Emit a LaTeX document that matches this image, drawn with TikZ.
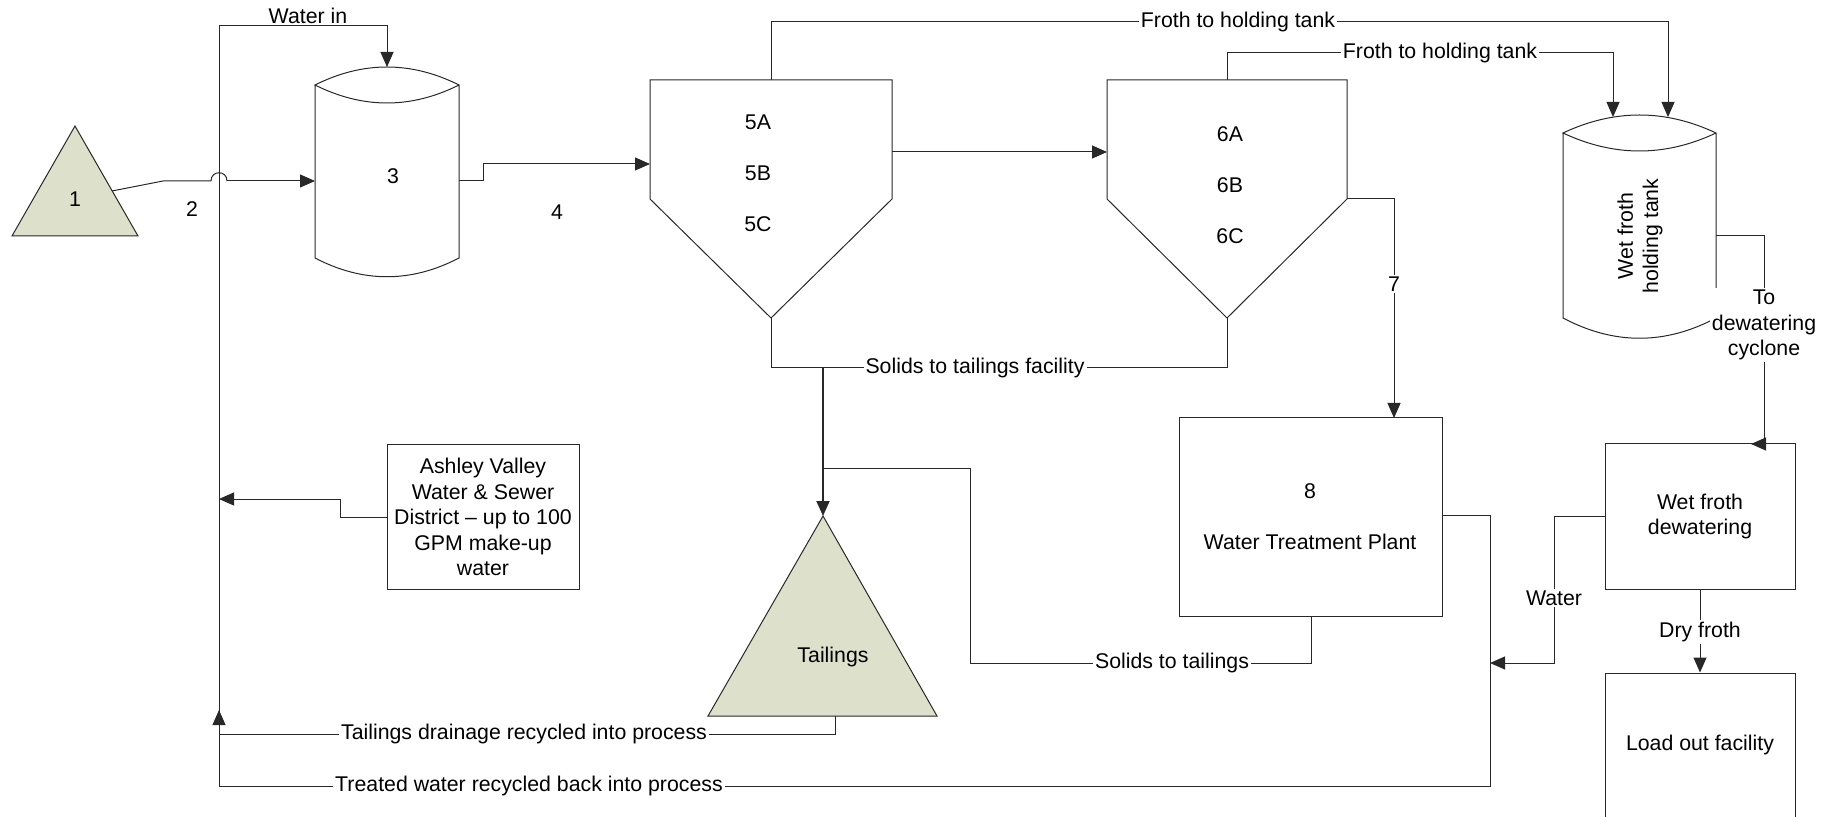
\documentclass[tikz,border=0pt]{standalone}
\usepackage{fontspec}
\setmainfont{Liberation Sans}
\usetikzlibrary{arrows.meta}
\definecolor{tailfill}{RGB}{221,224,203}
\definecolor{ink}{RGB}{40,40,40}
\begin{document}
\begin{tikzpicture}[x=0.5pt,y=-0.5pt,
  font=\fontsize{10.65}{12.7}\selectfont,
  line/.style={draw=ink, line width=0.5pt},
  arr/.style={line, -{Triangle[length=7.5pt,width=6.5pt]}},
  lbl/.style={fill=white, inner sep=1pt, align=center},
  txt/.style={inner sep=0pt, align=center},
  box/.style={draw=ink, line width=0.5pt, align=center, inner sep=0pt},
  tri/.style={fill=tailfill, draw=ink, line width=0.5pt},
  vessel/.style={draw=ink, line width=0.5pt}]
\useasboundingbox (0,0) rectangle (1834,817);

% ---------- Triangle 1 ----------
\coordinate (t1a) at (75,126);
\coordinate (t1l) at (12,236);
\coordinate (t1r) at (138,236);
\filldraw[tri] (t1a) -- (t1r) -- (t1l) -- cycle;
\node[txt] (n1) at (75,199) {1};
\coordinate (t1out) at (112,191);

% ---------- Cylinder 3 ----------
\draw[vessel] (315,85) -- (315,258) .. controls (363,283) and (411,283) .. (459,258)
  -- (459,85) .. controls (411,61) and (363,61) .. (315,85)
  .. controls (363,109) and (411,109) .. (459,85);
\node[txt] (n3) at (393,176) {3};
\coordinate (c3in) at (315,181);
\coordinate (c3top) at (387,67);
\coordinate (c3out) at (459,181);

% ---------- Hopper 5 ----------
\draw[vessel] (650,80) -- (892,80) -- (892,199) -- (771,318) -- (650,199) -- cycle;
\node[txt] (n5a) at (758,122) {5A};
\node[txt] (n5b) at (758,173) {5B};
\node[txt] (n5c) at (758,224) {5C};
\coordinate (h5in) at (650,164);
\coordinate (h5top) at (771,80);
\coordinate (h5out) at (892,152);
\coordinate (h5bot) at (771,318);

% ---------- Hopper 6 ----------
\draw[vessel] (1107,80) -- (1347,80) -- (1347,199) -- (1227,318) -- (1107,199) -- cycle;
\node[txt] (n6a) at (1230,134) {6A};
\node[txt] (n6b) at (1230,185) {6B};
\node[txt] (n6c) at (1230,236) {6C};
\coordinate (h6in) at (1107,152);
\coordinate (h6top) at (1227,80);
\coordinate (h6out) at (1347,199);
\coordinate (h6bot) at (1227,318);

% ---------- Wet froth holding tank ----------
\draw[vessel] (1563,133) -- (1563,318) .. controls (1614,345) and (1665,345) .. (1716,318)
  -- (1716,133) .. controls (1665,109) and (1614,109) .. (1563,133)
  .. controls (1614,157) and (1665,157) .. (1716,133);
\node[txt, rotate=90] (ntank) at (1640,236) {Wet froth\\holding tank};
\coordinate (tk1) at (1613,117);
\coordinate (tk2) at (1668,117);
\coordinate (tkout) at (1716,236);

% ---------- Tailings ----------
\coordinate (ta) at (823,516);
\filldraw[tri] (ta) -- (937,716) -- (708,716) -- cycle;
\node[txt] (ntail) at (833,657) {Tailings};
\coordinate (tdrain) at (835,716);

% ---------- Boxes ----------
\node[box, minimum width=96pt, minimum height=72.5pt] (ash) at (483,517)
  {Ashley Valley\\Water \& Sewer\\District -- up to 100\\GPM make-up\\water};
\node[box, minimum width=131.5pt, minimum height=99pt] (wtp) at (1310.5,517) {};
\node[txt] (n8) at (1310,491) {8};
\node[txt] (nwtp) at (1310,542) {Water Treatment Plant};
\node[box, minimum width=95pt, minimum height=72.5pt] (wfd) at (1700,516.5) {Wet froth\\dewatering};
\node[box, minimum width=95pt, minimum height=72pt] (lo) at (1700,745) {Load out facility};

% ---------- Connectors ----------
% 1 -> 3 (stream 2) with a jump over the water line
\coordinate (p2a) at (163,181);
\coordinate (j1) at (211,181);
\coordinate (j2) at (227,181);
\draw[line] (t1out) -- (p2a) -- (j1) .. controls (211,170) and (227,170) .. (j2);
\draw[arr] (j2) -- (c3in);
\node[txt] (n2) at (192,209) {2};

% Water in (main recycle riser)
\coordinate (wb) at (219,734);
\coordinate (wt) at (219,26);
\draw[arr] (wb) -- (wt) -| (c3top);
\node[txt] (lwin) at (308,16) {Water in};

% 3 -> 5 (stream 4)
\coordinate (p4) at (483,181);
\draw[arr] (c3out) -- (p4) |- (h5in);
\node[txt] (n4) at (557,212) {4};

% 5 -> 6
\draw[arr] (h5out) -- (h6in);

% Froth from 5
\coordinate (f1) at (771,22);
\draw[arr] (h5top) -- (f1) -| (tk2);
\node[lbl] (lf1) at (1238,22) {Froth to holding tank};

% Froth from 6
\coordinate (f2) at (1227,53);
\draw[arr] (h6top) -- (f2) -| (tk1);
\node[lbl] (lf2) at (1440,53) {Froth to holding tank};

% Stream 7
\coordinate (wtp7) at (1394,418);
\draw[arr] (h6out) -| (wtp7);
\node[lbl] (n7) at (1394,284) {7};

% Solids to tailings facility
\coordinate (s1) at (771,368);
\coordinate (s2) at (1227,368);
\coordinate (sj) at (823,368);
\draw[line] (h5bot) -- (s1) -- (s2) -- (h6bot);
\draw[arr, line width=1pt] (sj) -- (ta);
\node[lbl] (ls) at (975,368) {Solids to tailings facility};

% Solids to tailings from WTP
\coordinate (st1) at (1311,663);
\coordinate (st2) at (970,663);
\coordinate (st3) at (970,468);
\coordinate (st4) at (823,468);
\draw[line] (wtp.south -| st1) -- (st1) -- (st2) -- (st3) -- (st4);
\node[lbl] (lst) at (1172,663) {Solids to tailings};

% Tailings drainage
\coordinate (td1) at (835,734);
\coordinate (tdarr) at (219,710);
\draw[line] (tdrain) -- (td1) -- (wb);
\draw[arr] (wb) -- (tdarr);
\node[lbl] (ltd) at (524,734) {Tailings drainage recycled into process};

% Treated water
\coordinate (tw1) at (1490,515);
\coordinate (tw2) at (1490,786);
\coordinate (tw3) at (219,786);
\draw[line] (wtp.east |- tw1) -- (tw1) -- (tw2) -- (tw3) -- (wb);
\node[lbl] (ltw) at (529,786) {Treated water recycled back into process};

% Ashley make-up water
\coordinate (a1) at (340,517);
\coordinate (a2) at (219,499);
\draw[arr] (ash.west) -- (a1) |- (a2);

% Tank -> dewatering
\coordinate (dw1) at (1764,444);
\coordinate (dw2) at (1767,444);
\coordinate (dw3) at (1751,444);
\draw[line] (tkout) -| (dw1);
\draw[arr] (dw2) -- (dw3);
\node[lbl] (ldw) at (1764,325) {To\\dewatering\\cyclone};

% Water from dewatering
\coordinate (wa1) at (1554,663);
\coordinate (wa2) at (1490,663);
\draw[arr] (wfd.west) -| (wa1) -- (wa2);
\node[lbl] (lwa) at (1554,598) {Water};

% Dry froth
\draw[arr] (wfd.south) -- (lo.north);
\node[lbl] (ldf) at (1700,632) {Dry froth};
\end{tikzpicture}
\end{document}
